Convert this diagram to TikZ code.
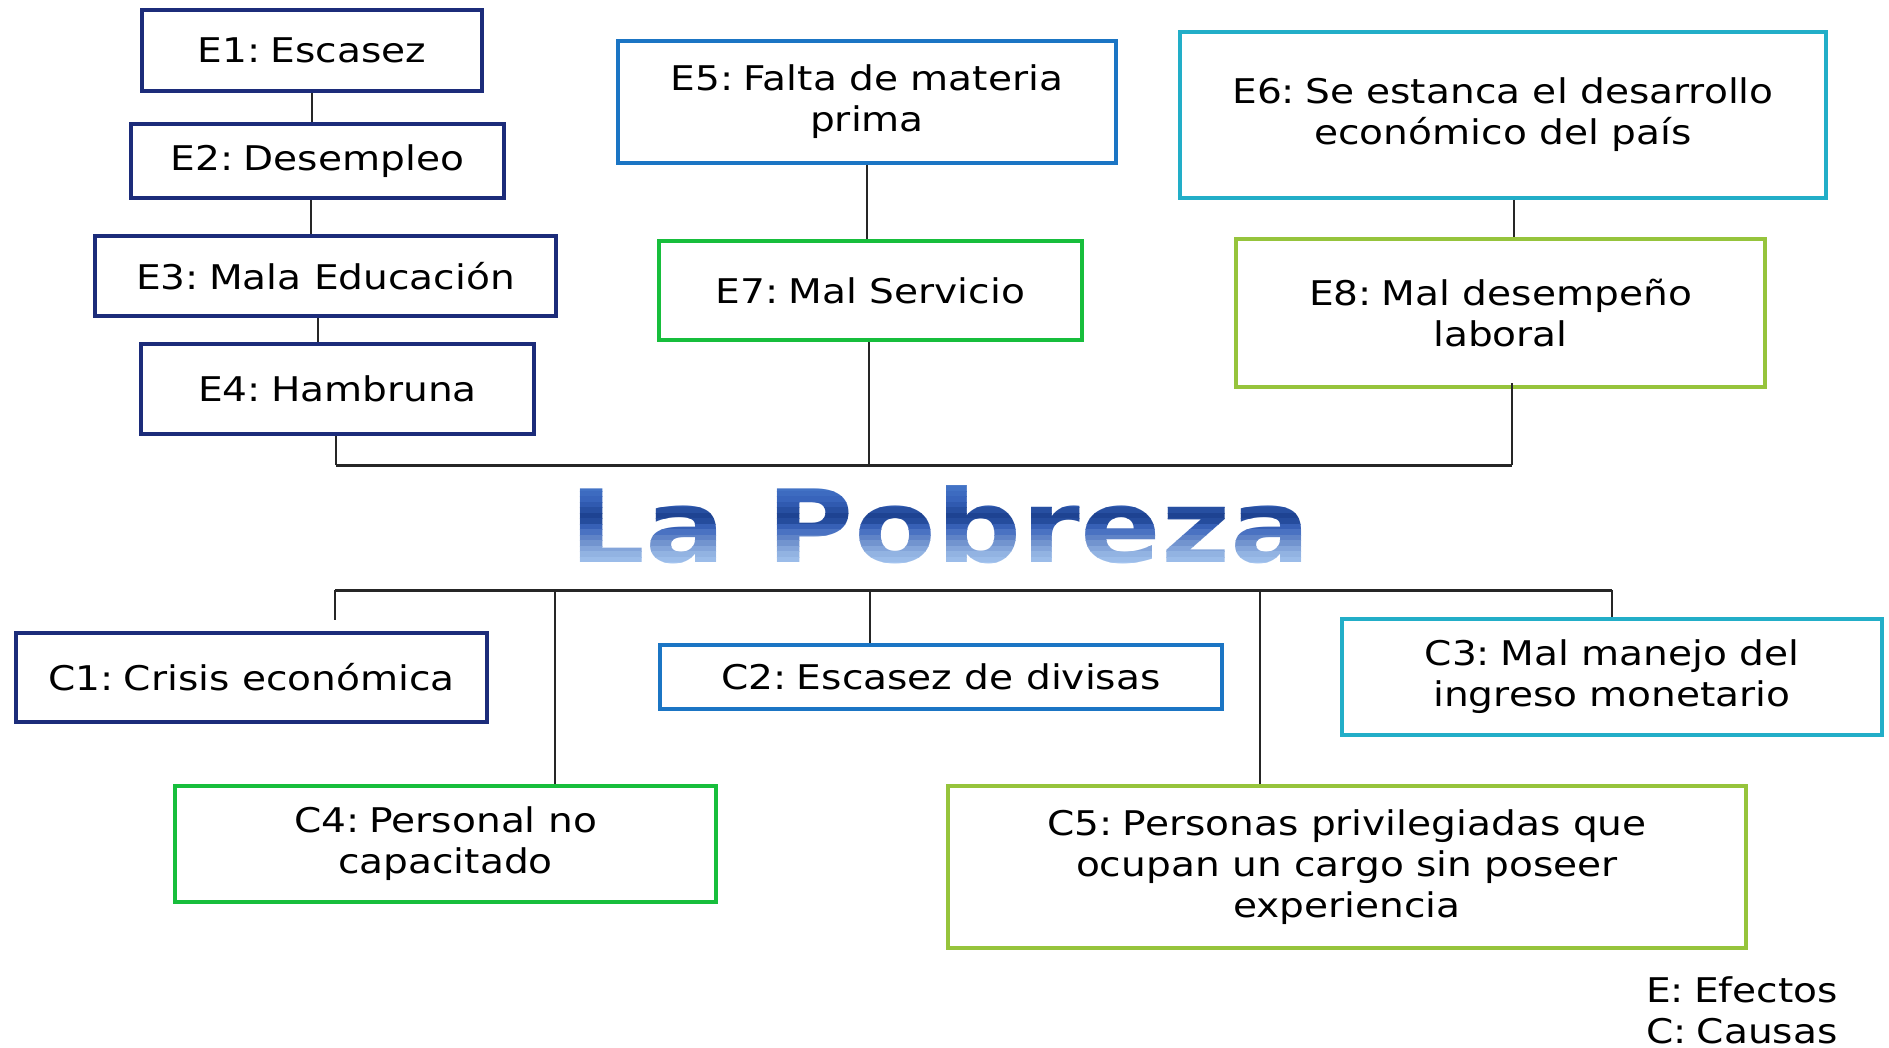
\documentclass[tikz,border=0pt]{standalone}
\usepackage{fontspec}
\setmainfont{DejaVu Sans}[FakeStretch=1.15]
\newfontfamily\titlefont{DejaVu Sans}[FakeStretch=1.18]
\definecolor{cnavy}{HTML}{1C2C7A}
\definecolor{cblue}{HTML}{1B75C4}
\definecolor{ccyan}{HTML}{22AEC8}
\definecolor{cgreen}{HTML}{17BE3C}
\definecolor{clime}{HTML}{96C43C}
\newcommand\boxfont{\fontsize{34}{41}\selectfont}
\newcommand\colsp{\hspace{0.3em}}
\tikzset{
  box/.style={draw, line width=4pt, rectangle, inner sep=0pt, align=center, font=\boxfont, text=black},
  conn/.style={line width=2pt, draw=black!85},
  busline/.style={line width=3pt, draw=black!85},
  titletext/.style={inner sep=0pt, font=\titlefont\bfseries\fontsize{101}{101}\selectfont},
  legend/.style={anchor=west, inner sep=0pt, font=\boxfont}
}
\begin{document}
\begin{tikzpicture}[x=1pt,y=-1pt]
\useasboundingbox[fill=white] (0,0) rectangle (1889,1048);

% Effects
\node[box, draw=cnavy, minimum width=340pt, minimum height=81pt] (E1) at (312,50.5) {E1:\colsp Escasez};
\node[box, draw=cnavy, minimum width=373pt, minimum height=74pt] (E2) at (317.5,161) {E2:\colsp Desempleo};
\node[box, draw=cnavy, minimum width=461pt, minimum height=80pt] (E3) at (325.5,276) {E3:\colsp Mala Educación};
\node[box, draw=cnavy, minimum width=393pt, minimum height=90pt] (E4) at (337.5,389) {E4:\colsp Hambruna};
\node[box, draw=cblue, minimum width=498pt, minimum height=122pt] (E5) at (867,102) {E5:\colsp Falta de materia\\prima};
\node[box, draw=ccyan, minimum width=646pt, minimum height=166pt] (E6) at (1503,115) {E6:\colsp Se estanca el desarrollo\\económico del país};
\node[box, draw=cgreen, minimum width=423pt, minimum height=99pt] (E7) at (870.5,290.5) {E7:\colsp Mal Servicio};
\node[box, draw=clime, minimum width=529pt, minimum height=148pt] (E8) at (1500.5,313) {E8:\colsp Mal desempeño\\laboral};

% Causes
\node[box, draw=cnavy, minimum width=471pt, minimum height=89pt] (C1) at (251.5,677.5) {C1:\colsp Crisis económica};
\node[box, draw=cblue, minimum width=562pt, minimum height=64pt] (C2) at (941,677) {C2:\colsp Escasez de divisas};
\node[box, draw=ccyan, minimum width=540pt, minimum height=116pt] (C3) at (1612,677) {C3:\colsp Mal manejo del\\ingreso monetario};
\node[box, draw=cgreen, minimum width=541pt, minimum height=116pt] (C4) at (445.5,844) {C4:\colsp Personal no\\capacitado};
\node[box, draw=clime, minimum width=798pt, minimum height=162pt] (C5) at (1347,867) {C5:\colsp Personas privilegiadas que\\ocupan un cargo sin poseer\\experiencia};

% Title with vertical gradient (banded clipping)
\node[titletext, text opacity=0] (title) at (940,525) {La Pobreza};
\foreach \c [count=\i from 0] in {4778C9,4272C5,3D6BC0,3864BB,305AB0,274FA1,1E4392,254C9D,3760B6,4A72C2,5F83C7,7294CF,84A5DA,92B3E2,9BBCE9,A4C4EF}{
  \definecolor{bandc}{HTML}{\c}
  \pgfmathsetmacro{\ya}{\i==0 ? 440 : 480+\i*5.5}
  \pgfmathsetmacro{\yb}{\i==15 ? 610 : 480+(\i+1)*5.5+0.4}
  \begin{scope}
    \clip (500,\ya) rectangle (1400,\yb);
    \node[titletext, text=bandc] (title\i) at (title.center) {La Pobreza};
  \end{scope}
}

% Connectors among effects
\draw[conn] (E1.south) -- (E1.south |- E2.north);
\draw[conn] ([xshift=-7pt]E2.south) -- ([xshift=-7pt]E2.south |- E3.north);
\draw[conn] ([xshift=-8pt]E3.south) -- ([xshift=-8pt]E3.south |- E4.north);
\draw[conn] (E5.south) -- (E5.south |- E7.north);
\draw[conn] ([xshift=11pt]E6.south) -- ([xshift=11pt]E6.south |- E8.north);

% Top bus
\coordinate (tb4) at (336,465);
\coordinate (tb7) at (869,465);
\coordinate (tb8) at (1512,465);
\draw[busline] (tb4) -- (tb8);
\draw[conn] (tb4) -- (tb4 |- E4.south);
\draw[conn] (tb7) -- (tb7 |- E7.south);
\draw[conn] (tb8) -- ([yshift=6pt]tb8 |- E8.south);

% Bottom bus
\coordinate (bb1) at (335,590);
\coordinate (bb4) at (555,590);
\coordinate (bb2) at (870,590);
\coordinate (bb5) at (1260,590);
\coordinate (bb3) at (1612,590);
\coordinate (c1top) at (335,620);
\draw[busline] (bb1) -- (bb3);
\draw[conn] (bb1) -- (c1top);
\draw[conn] (bb4) -- (bb4 |- C4.north);
\draw[conn] (bb2) -- (bb2 |- C2.north);
\draw[conn] (bb5) -- (bb5 |- C5.north);
\draw[conn] (bb3) -- (bb3 |- C3.north);

% Legend
\node[legend] (legE) at (1646,990) {E:\colsp Efectos};
\node[legend] (legC) at (1646,1031) {C:\colsp Causas};
\end{tikzpicture}
\end{document}
